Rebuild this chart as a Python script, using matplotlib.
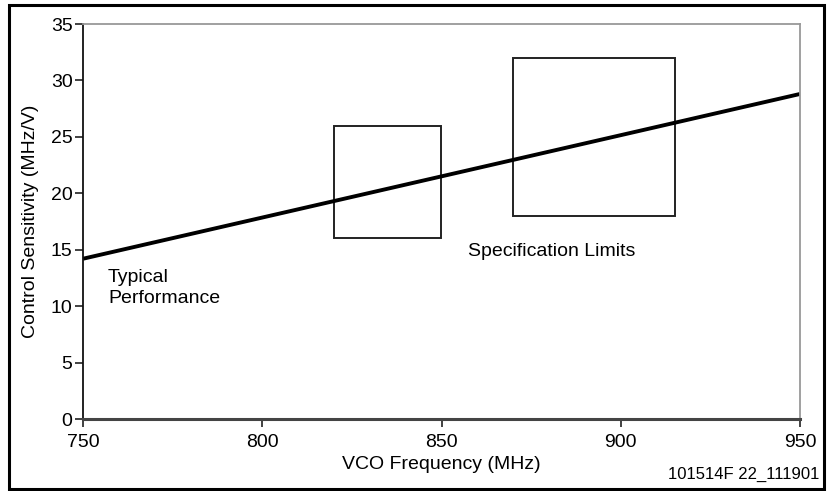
import matplotlib
matplotlib.use("Agg")
import matplotlib.pyplot as plt
from matplotlib.patches import Rectangle

plt.rcParams['font.family'] = ['Liberation Sans', 'DejaVu Sans']

# Data
freq = [750, 950]
sensitivity = [14.2, 28.8]
box1_x = [820, 850]
box1_y = [16, 26]
box2_x = [870, 915]
box2_y = [18, 32]
xticks = [750, 800, 850, 900, 950]
yticks = [0, 5, 10, 15, 20, 25, 30, 35]

fig = plt.figure(figsize=(8.27, 4.91), dpi=100)
ax = fig.add_axes([83/827, 1-419/491, 717/827, 395/491])

ax.plot(freq, sensitivity, color='black', lw=2.8, solid_capstyle='butt')
for bx, by in [(box1_x, box1_y), (box2_x, box2_y)]:
    ax.add_patch(Rectangle((bx[0], by[0]), bx[1]-bx[0], by[1]-by[0],
                           fill=False, edgecolor='#222222', lw=1.4))

ax.set_xlim(750, 950)
ax.set_ylim(0, 35)
ax.set_xticks(xticks)
ax.set_yticks(yticks)
ax.tick_params(direction='out', length=6, width=1.3, labelsize=14, pad=1.5, colors='#333333', labelcolor='black')
ax.tick_params(axis='x', pad=5)
ax.spines['left'].set_color('#111111')
ax.spines['left'].set_linewidth(1.3)
ax.spines['bottom'].set_color('#444444')
ax.spines['bottom'].set_linewidth(2.2)
ax.spines['top'].set_color('#999999')
ax.spines['top'].set_linewidth(1.3)
ax.spines['right'].set_color('#999999')
ax.spines['right'].set_linewidth(1.3)

ax.set_xlabel('VCO Frequency (MHz)', fontsize=14, labelpad=3.5)
ax.set_ylabel('Control Sensitivity (MHz/V)', fontsize=14, labelpad=8.5)

ax.text(757, 12.5, 'Typical', fontsize=14, ha='left', va='center')
ax.text(757, 10.7, 'Performance', fontsize=14, ha='left', va='center')
ax.text(857.4, 14.8, 'Specification Limits', fontsize=14, ha='left', va='center')

fig.text(819/827, 1-474/491, '101514F 22_111901', fontsize=12, ha='right', va='center')

border = Rectangle((9/827, 1-489/491), 815/827, 484/491, transform=fig.transFigure,
                   fill=False, edgecolor='black', lw=2.2)
fig.patches.append(border)

fig.savefig('out.png', dpi=100)
